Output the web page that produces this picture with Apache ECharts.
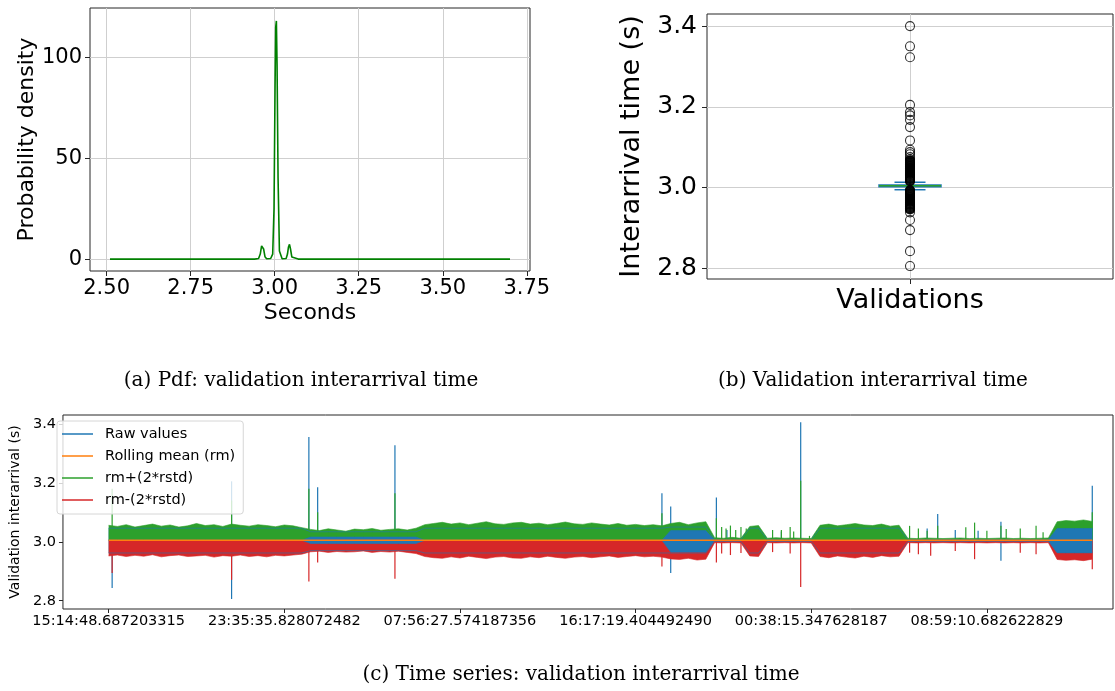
<!DOCTYPE html>
<html>
<head>
<meta charset="utf-8">
<script src="https://cdn.jsdelivr.net/npm/echarts@6/dist/echarts.min.js"></script>
<style>
  html, body { margin: 0; padding: 0; background: #fff; }
  #main { width: 1115px; height: 691px; }
</style>
</head>
<body>
<div id="main"></div>
<script>
// ---- (a) pdf of the interarrival time
const pdfSeconds = [2.51, 2.94, 2.952, 2.957, 2.961, 2.964, 2.967, 2.971, 2.976, 2.988, 2.994, 2.998, 3.001, 3.003,
  3.005, 3.007, 3.010, 3.014, 3.022, 3.034, 3.038, 3.041, 3.044, 3.047, 3.051, 3.056, 3.07, 3.70];
const pdfDensity = [0, 0, 0.3, 2.5, 6.5, 7.4, 5, 1.2, 0.2, 0.3, 2.5, 25, 85, 115,
  118, 96, 40, 4, 0.2, 0.3, 2.5, 6, 7.3, 5, 1, 0.1, 0, 0];
const pdfTicksX = [2.5, 2.75, 3.0, 3.25, 3.5, 3.75];
const pdfTicksY = [0, 50, 100];

// ---- (b) box plot: whisker low, q1, median, q3, whisker high
const boxStats = [2.995, 3.0025, 3.005, 3.007, 3.0135];
const boxLabel = 'Validations';
const fliers = [3.400, 3.350, 3.323, 3.205, 3.187, 3.179, 3.168, 3.150, 3.117, 3.094, 3.088, 3.083, 3.076, 3.071,
  3.068, 3.067, 3.066, 3.065, 3.064, 3.063, 3.062, 3.061, 3.060, 3.059, 3.058, 3.057, 3.056, 3.055, 3.054,
  3.053, 3.052, 3.051, 3.050, 3.049, 3.048, 3.047, 3.046, 3.045, 3.044, 3.043, 3.042, 3.041, 3.040,
  3.039, 3.038, 3.037, 3.036, 3.035, 3.034, 3.033, 3.032, 3.031, 3.030, 3.029, 3.028, 3.027, 3.026,
  3.025, 3.024, 3.023, 3.022, 3.021, 3.020, 3.019, 3.018, 3.017, 3.016,
  2.994, 2.993, 2.992, 2.991, 2.990, 2.989, 2.988, 2.987, 2.986, 2.985, 2.984, 2.983, 2.982, 2.981,
  2.980, 2.979, 2.978, 2.977, 2.976, 2.975, 2.974, 2.973, 2.972, 2.971, 2.970, 2.969, 2.968, 2.967,
  2.966, 2.965, 2.964, 2.963, 2.962, 2.961, 2.960, 2.959, 2.958, 2.957, 2.956, 2.955, 2.954, 2.953,
  2.952, 2.951, 2.950, 2.949, 2.948, 2.947, 2.946,
  2.939, 2.920, 2.895, 2.843, 2.806];
const boxTicksY = [2.8, 3.0, 3.2, 3.4];

// ---- (c) time series, x in units of tick spacing
const timeTickLabels = ['15:14:48.687203315', '23:35:35.828072482', '07:56:27.574187356',
  '16:17:19.404492490', '00:38:15.347628187', '08:59:10.682622829'];
const timeTickPos = [0, 1, 2, 3, 4, 5];
const binStep = 0.05;
const rollingMean = 3.005;
// bins per stretch of the record (active / patchy / quiet stretches)
const regionBins = [23, 13, 28, 5, 4, 2, 6, 10, 17, 5];
const rawHiLevel = [3.046, 3.034, 3.046, 3.050, 3.008, 3.046, 3.008, 3.046, 3.008, 3.045];
const rawLoLevel = [2.962, 2.970, 2.962, 2.962, 3.001, 2.962, 3.001, 2.962, 3.001, 2.963];
const upLoLevel = [3.005, 3.016, 3.005, 3.038, 3.005, 3.005, 3.005, 3.005, 3.005, 3.044];
const dnHiLevel = [3.005, 2.994, 3.005, 2.965, 3.005, 3.005, 3.005, 3.005, 3.005, 2.963];
const upHi = [
  3.056, 3.052, 3.058, 3.050, 3.055, 3.060, 3.053, 3.057, 3.050, 3.054, 3.062, 3.055, 3.058, 3.052, 3.060, 3.056,
  3.053, 3.058, 3.055, 3.051, 3.057, 3.054, 3.048,
  3.042, 3.038, 3.044, 3.040, 3.036, 3.043, 3.041, 3.045, 3.039, 3.042, 3.044, 3.040, 3.046,
  3.058, 3.062, 3.066, 3.060, 3.064, 3.058, 3.063, 3.068, 3.061, 3.059, 3.064, 3.066, 3.060, 3.063, 3.058, 3.062,
  3.067, 3.061, 3.059, 3.064, 3.060, 3.057, 3.062, 3.056, 3.059, 3.055, 3.058, 3.054,
  3.062, 3.066, 3.058, 3.064, 3.068,
  3.014, 3.012, 3.015, 3.012,
  3.052, 3.055,
  3.012, 3.014, 3.012, 3.013, 3.012, 3.011,
  3.056, 3.060, 3.054, 3.058, 3.062, 3.057, 3.055, 3.060, 3.053, 3.056,
  3.012, 3.011, 3.013, 3.012, 3.011, 3.012, 3.013, 3.011, 3.012, 3.011, 3.012, 3.013, 3.011, 3.012, 3.011, 3.012, 3.013,
  3.068, 3.072, 3.070, 3.074, 3.069];
const dnLo = [
  2.952, 2.955, 2.950, 2.954, 2.951, 2.956, 2.949, 2.953, 2.955, 2.950, 2.952, 2.954, 2.948, 2.953, 2.951, 2.955,
  2.950, 2.953, 2.949, 2.954, 2.952, 2.955, 2.958,
  2.966, 2.968, 2.964, 2.967, 2.965, 2.966, 2.969, 2.964, 2.967, 2.965, 2.968, 2.964, 2.960,
  2.950, 2.946, 2.944, 2.949, 2.945, 2.951, 2.947, 2.943, 2.948, 2.950, 2.945, 2.944, 2.949, 2.946, 2.951, 2.947,
  2.944, 2.948, 2.950, 2.946, 2.949, 2.952, 2.947, 2.950, 2.953, 2.949, 2.951, 2.948,
  2.942, 2.940, 2.944, 2.938, 2.941,
  2.997, 2.996, 2.997, 2.996,
  2.952, 2.950,
  2.997, 2.996, 2.997, 2.996, 2.997, 2.996,
  2.950, 2.946, 2.952, 2.948, 2.945, 2.951, 2.947, 2.953, 2.949, 2.951,
  2.997, 2.996, 2.997, 2.996, 2.997, 2.996, 2.997, 2.996, 2.997, 2.996, 2.997, 2.996, 2.997, 2.996, 2.997, 2.996, 2.997,
  2.940, 2.937, 2.939, 2.936, 2.941];
// isolated excursions [position, value]
const rawSpikes = [[0.02, 2.843], [0.70, 3.205], [0.70, 2.806], [1.14, 3.355], [1.19, 3.185], [1.63, 3.327],
  [3.15, 3.165], [3.20, 3.12], [3.20, 2.894], [3.46, 3.15], [3.52, 3.04], [3.83, 3.035], [3.94, 3.405],
  [4.66, 3.045], [4.72, 3.094], [4.82, 3.04], [4.95, 3.037], [5.08, 3.068], [5.08, 2.936], [5.60, 3.19]];
const upSpikes = [[0.02, 3.18], [0.70, 3.14], [1.14, 3.18], [1.19, 3.10], [1.63, 3.165], [3.15, 3.097],
  [3.46, 3.08], [3.49, 3.05], [3.515, 3.045], [3.54, 3.055], [3.57, 3.04], [3.60, 3.05], [3.63, 3.045],
  [3.78, 3.04], [3.83, 3.04], [3.88, 3.05], [3.90, 3.035], [3.94, 3.207], [3.99, 3.02],
  [4.56, 3.054], [4.61, 3.045], [4.66, 3.037], [4.72, 3.054], [4.88, 3.049], [4.93, 3.065], [5.00, 3.037],
  [5.08, 3.054], [5.11, 3.043], [5.19, 3.045], [5.28, 3.054], [5.32, 3.032], [5.60, 3.10]];
const dnSpikes = [[0.02, 2.894], [0.70, 2.871], [1.14, 2.865], [1.19, 2.93], [1.63, 2.875], [3.15, 2.916],
  [3.46, 2.93], [3.49, 2.96], [3.54, 2.955], [3.60, 2.962], [3.78, 2.965], [3.88, 2.96], [3.94, 2.847],
  [4.56, 2.963], [4.61, 2.958], [4.68, 2.953], [4.82, 2.969], [4.93, 2.941], [5.19, 2.963], [5.28, 2.958],
  [5.60, 2.907]];

const C0 = '#1f77b4', C1 = '#ff7f0e', C2 = '#2ca02c', C3 = '#d62728';
const FONT = 'DejaVu Sans';
const SPINE = '#262626';
const GRIDC = '#cfcfcf';

function expand(levels) {
  const out = [];
  regionBins.forEach((n, r) => { for (let k = 0; k < n; k++) out.push(levels[r]); });
  return out;
}
const rawHi = expand(rawHiLevel), rawLo = expand(rawLoLevel);
const upLo = expand(upLoLevel), dnHi = expand(dnHiLevel);
const pos = i => +(i * binStep).toFixed(3);

// area filled between the rolling mean and an envelope
function envelope(name, values, color) {
  return {
    type: 'line', name, xAxisIndex: 2, yAxisIndex: 2, silent: true, color,
    showSymbol: false, lineStyle: { width: 0.6, color },
    areaStyle: { color, opacity: 1, origin: rollingMean },
    emphasis: { disabled: true },
    data: values.map((v, i) => [pos(i), v])
  };
}

function spikes(name, list, color) {
  return {
    type: 'custom', name, xAxisIndex: 2, yAxisIndex: 2, silent: true,
    data: list, encode: { x: 0, y: 1 },
    renderItem: (params, api) => {
      const t = api.value(0);
      const a = api.coord([t, rollingMean]);
      const b = api.coord([t, api.value(1)]);
      return { type: 'line', shape: { x1: a[0], y1: a[1], x2: b[0], y2: b[1] },
        style: { stroke: color, lineWidth: 1.2 } };
    }
  };
}

const chart = echarts.init(document.getElementById('main'), null, { renderer: 'canvas' });

const capStyle = { fontFamily: 'DejaVu Serif', fontSize: 20, fontWeight: 'normal', color: '#000' };
const noLine = { show: false, onZero: false };

chart.setOption({
  animation: false,
  backgroundColor: '#fff',
  title: [
    { text: '(a) Pdf: validation interarrival time', left: 296, top: 366, textAlign: 'center', textStyle: capStyle },
    { text: '(b) Validation interarrival time', left: 868, top: 366, textAlign: 'center', textStyle: capStyle },
    { text: '(c) Time series: validation interarrival time', left: 576, top: 660, textAlign: 'center', textStyle: capStyle }
  ],
  grid: [
    { left: 90, top: 8, width: 440, height: 263, show: true, borderColor: SPINE, borderWidth: 1 },
    { left: 707, top: 14, width: 406, height: 265, show: true, borderColor: SPINE, borderWidth: 1 },
    { left: 55, top: 415, width: 1058, height: 194, show: true, borderColor: SPINE, borderWidth: 1 }
  ],
  legend: {
    orient: 'vertical', left: 57, top: 421, selectedMode: false,
    data: [
      { name: 'Raw values', itemStyle: { color: C0 } },
      { name: 'Rolling mean (rm)', itemStyle: { color: C1 } },
      { name: 'rm+(2*rstd)', itemStyle: { color: C2 } },
      { name: 'rm-(2*rstd)', itemStyle: { color: C3 } }
    ],
    icon: 'rect', itemWidth: 31, itemHeight: 1.5, itemGap: 4,
    padding: [4, 8, 5, 5],
    borderColor: '#d6d6d6', borderWidth: 1, borderRadius: 3,
    backgroundColor: 'rgba(255,255,255,0.8)',
    textStyle: { fontFamily: FONT, fontSize: 14.5, color: '#000', lineHeight: 18, padding: [0, 0, 0, 7] }
  },
  xAxis: [
    { type: 'value', gridIndex: 0, min: 2.4505, max: 3.7595,
      name: 'Seconds', nameLocation: 'middle', nameGap: 31,
      nameTextStyle: { fontFamily: FONT, fontSize: 22, color: '#000' },
      axisLine: noLine,
      axisTick: { show: true, length: 5, customValues: pdfTicksX, lineStyle: { color: SPINE } },
      axisLabel: { customValues: pdfTicksX, margin: 7, fontFamily: FONT, fontSize: 21, color: '#000',
        formatter: v => v.toFixed(2) },
      splitLine: { show: true, lineStyle: { color: GRIDC, width: 1 } } },
    { type: 'value', gridIndex: 1, min: 0.5, max: 1.5,
      axisLine: noLine,
      axisTick: { show: true, length: 5, customValues: [1], lineStyle: { color: SPINE } },
      axisLabel: { customValues: [1], margin: 8, fontFamily: FONT, fontSize: 27, color: '#000',
        formatter: () => boxLabel },
      splitLine: { show: true, lineStyle: { color: GRIDC, width: 1 } } },
    { type: 'value', gridIndex: 2, min: -0.26, max: 5.718,
      axisLine: noLine,
      axisTick: { show: true, length: 4, customValues: timeTickPos, lineStyle: { color: SPINE } },
      axisLabel: { customValues: timeTickPos, margin: 5, fontFamily: FONT, fontSize: 14.5, color: '#000',
        formatter: v => timeTickLabels[Math.round(v)] },
      splitLine: { show: false } }
  ],
  yAxis: [
    { type: 'value', gridIndex: 0, min: -5.9, max: 124.4,
      name: 'Probability density', nameLocation: 'middle', nameGap: 48,
      nameTextStyle: { fontFamily: FONT, fontSize: 22, color: '#000' },
      axisLine: noLine,
      axisTick: { show: true, length: 5, customValues: pdfTicksY, lineStyle: { color: SPINE } },
      axisLabel: { customValues: pdfTicksY, margin: 8, fontFamily: FONT, fontSize: 21, color: '#000' },
      splitLine: { show: true, lineStyle: { color: GRIDC, width: 1 } } },
    { type: 'value', gridIndex: 1, min: 2.774, max: 3.43,
      name: 'Interarrival time (s)', nameLocation: 'middle', nameGap: 62,
      nameTextStyle: { fontFamily: FONT, fontSize: 27, color: '#000' },
      axisLine: noLine,
      axisTick: { show: true, length: 5, customValues: boxTicksY, lineStyle: { color: SPINE } },
      axisLabel: { customValues: boxTicksY, margin: 10, fontFamily: FONT, fontSize: 25, color: '#000',
        formatter: v => v.toFixed(1) },
      splitLine: { show: true, lineStyle: { color: GRIDC, width: 1 } } },
    { type: 'value', gridIndex: 2, min: 2.772, max: 3.43,
      name: 'Validation interarrival (s)', nameLocation: 'middle', nameGap: 38,
      nameTextStyle: { fontFamily: FONT, fontSize: 14, color: '#000' },
      axisLine: noLine,
      axisTick: { show: true, length: 4, customValues: boxTicksY, lineStyle: { color: SPINE } },
      axisLabel: { customValues: boxTicksY, margin: 7, fontFamily: FONT, fontSize: 14.5, color: '#000',
        formatter: v => v.toFixed(1) },
      splitLine: { show: false } }
  ],
  series: [
    // (a)
    { type: 'line', name: 'pdf', xAxisIndex: 0, yAxisIndex: 0, showSymbol: false, silent: true,
      lineStyle: { color: '#008000', width: 1.6 },
      data: pdfSeconds.map((s, i) => [s, pdfDensity[i]]) },
    // (b)
    { type: 'scatter', name: 'fliers', xAxisIndex: 1, yAxisIndex: 1, silent: true,
      symbol: 'circle', symbolSize: 9,
      itemStyle: { color: 'rgba(0,0,0,0)', borderColor: '#000', borderWidth: 1.1 },
      data: fliers.map(v => [1, v]) },
    { type: 'custom', name: 'box', xAxisIndex: 1, yAxisIndex: 1, silent: true,
      data: [[1].concat(boxStats)], encode: { x: 0, y: [1, 5] },
      renderItem: (params, api) => {
        const x = api.value(0);
        const p = [1, 2, 3, 4, 5].map(k => api.coord([x, api.value(k)]));
        const cx = p[0][0], half = 31, cap = 15.5;
        const ln = (x1, y1, x2, y2, stroke) => ({ type: 'line', shape: { x1, y1, x2, y2 },
          style: { stroke, lineWidth: 1.5 } });
        return { type: 'group', children: [
          ln(cx, p[1][1], cx, p[0][1], C0),
          ln(cx, p[3][1], cx, p[4][1], C0),
          ln(cx - cap, p[0][1], cx + cap, p[0][1], C0),
          ln(cx - cap, p[4][1], cx + cap, p[4][1], C0),
          { type: 'rect', shape: { x: cx - half, y: p[3][1], width: 2 * half, height: p[1][1] - p[3][1] },
            style: { stroke: C0, fill: 'none', lineWidth: 1.5 } },
          ln(cx - half, p[2][1], cx + half, p[2][1], C2)
        ] };
      } },
    // (c) raw values first, then the two bands, blue showing through where the band leaves a gap
    envelope('Raw values', rawHi, C0),
    envelope('raw low', rawLo, C0),
    spikes('raw spikes', rawSpikes, C0),
    envelope('rm+(2*rstd)', upHi, C2),
    envelope('raw under upper band', upLo, C0),
    spikes('up spikes', upSpikes, C2),
    envelope('rm-(2*rstd)', dnLo, C3),
    envelope('raw above lower band', dnHi, C0),
    spikes('down spikes', dnSpikes, C3),
    { type: 'line', name: 'Rolling mean (rm)', xAxisIndex: 2, yAxisIndex: 2, silent: true, color: C1,
      showSymbol: false, lineStyle: { color: C1, width: 1.6 },
      data: upHi.map((v, i) => [pos(i), rollingMean]) }
  ]
});
</script>
</body>
</html>
